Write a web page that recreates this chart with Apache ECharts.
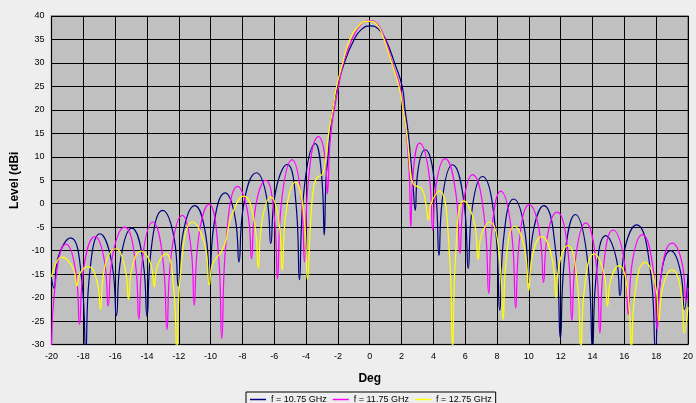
<!DOCTYPE html>
<html>
<head>
<meta charset="utf-8">
<script src="https://cdn.jsdelivr.net/npm/echarts@6/dist/echarts.min.js"></script>
<style>
html,body{margin:0;padding:0;background:#eeeeee;}
#chart{width:696px;height:403px;}
</style>
</head>
<body>
<div id="chart"></div>
<script>
const seriesNames = ['f = 10.75 GHz', 'f = 11.75 GHz', 'f = 12.75 GHz'];
const seriesColors = ['#000080', '#ff00ff', '#ffff00'];

const f1075 = [
[-20,-16],[-19.85,-18],[-19.6,-11.6],[-18.8,-7.3],[-18.08,-16.8],[-17.85,-31],[-17.64,-16.2],[-16.96,-6.4],[-16.17,-13.4],[-15.92,-23.9],[-15.69,-12.7],[-14.95,-5.2],[-14.23,-12.7],[-14.0,-24],[-13.76,-10.4],[-13.02,-1.4],[-12.27,-7.8],[-12.03,-17.5],[-11.78,-7.2],[-11.0,-0.4],[-10.29,-7.0],[-10.06,-17],[-9.83,-5.4],[-9.09,2.3],[-8.43,-3.6],[-8.22,-12.4],[-7.96,-1.0],[-7.12,6.6],[-6.44,0.6],[-6.22,-8.5],[-5.97,1.6],[-5.19,8.4],[-4.6,-1.4],[-4.42,-16.2],[-4.18,1.2],[-3.42,12.8],[-3.0,5.0],[-2.86,-6.7],[-2.75,5],[-2.62,10],[-2.5,15],[-2.33,20],[-2.02,25],[-1.6,30],[-0.98,35],[-0.5,37.2],[0.05,37.9],[0.55,37.2],[1.0,35],[1.56,30],[2.04,25],[2.22,20],[2.42,15],[2.56,10],[2.7,5],[2.86,-1.4],[3.0,6.3],[3.48,11.5],[4.14,2.5],[4.35,-11],[4.55,0.6],[5.2,8.3],[5.95,-0.5],[6.19,-13.8],[6.4,-2.0],[7.08,5.8],[7.91,-5.6],[8.17,-22.7],[8.38,-8.5],[9.04,1.0],[9.76,-6.1],[9.99,-16.8],[10.22,-7.0],[10.94,-0.4],[11.73,-11.7],[11.98,-28.6],[12.21,-12.8],[12.92,-2.3],[13.74,-13.8],[14.0,-31],[14.2,-16.5],[14.83,-6.8],[15.51,-11.9],[15.73,-19.6],[15.98,-10.5],[16.77,-4.5],[17.67,-15.1],[17.96,-31],[18.19,-18.4],[18.9,-10],[19.56,-15],[19.77,-22.5],[20,-15]
];

const f1175 = [
[-20,-31],[-19.78,-17.6],[-19.09,-8.6],[-18.44,-15.4],[-18.24,-25.7],[-18.01,-14.5],[-17.27,-7.0],[-16.64,-12.9],[-16.44,-21.8],[-16.19,-11.7],[-15.4,-5.0],[-14.72,-12.8],[-14.51,-24.6],[-14.3,-12.2],[-13.64,-3.9],[-12.96,-13.1],[-12.75,-26.8],[-12.52,-12.2],[-11.78,-2.5],[-11.21,-10.1],[-11.03,-21.6],[-10.81,-8.7],[-10.1,-0.1],[-9.49,-11.5],[-9.3,-28.7],[-9.06,-9.3],[-8.3,3.7],[-7.64,-2.5],[-7.43,-11.7],[-7.22,-1.7],[-6.54,5.0],[-5.98,-3.4],[-5.8,-16],[-5.58,-0.8],[-4.88,9.4],[-4.29,0.7],[-4.1,-12.4],[-3.89,3.6],[-3.22,14.3],[-2.79,9.4],[-2.66,2.1],[-2.6,5],[-2.55,10],[-2.44,15],[-2.23,20],[-1.96,25],[-1.65,30],[-1.12,35],[-0.55,38.2],[0,39.0],[0.5,38.2],[0.96,35],[1.42,30],[1.9,25],[2.12,20],[2.3,15],[2.42,10],[2.5,5],[2.58,-5],[2.71,5.7],[3.13,12.9],[3.76,5.4],[3.96,-5.7],[4.15,3.5],[4.73,9.6],[5.44,1.5],[5.67,-10.6],[5.86,-0.6],[6.46,6.2],[7.23,-3.9],[7.48,-19.1],[7.66,-6.0],[8.23,2.7],[8.95,-7.3],[9.17,-22.2],[9.37,-9.0],[10.02,-0.2],[10.7,-6.8],[10.92,-16.8],[11.12,-7.8],[11.77,-1.8],[12.48,-11.0],[12.7,-24.9],[12.91,-12.4],[13.58,-4.1],[14.25,-13.5],[14.46,-27.5],[14.66,-14.4],[15.29,-5.6],[16.02,-12.8],[16.25,-23.6],[16.46,-13.4],[17.13,-6.6],[17.84,-14.7],[18.06,-26.8],[18.29,-15.6],[19.0,-8.4],[19.67,-13.4],[19.88,-21],[20,-18]
];

const f1275 = [
[-20,-15.6],[-19.34,-11.4],[-18.64,-13.8],[-18.4,-17.5],[-18.24,-15.0],[-17.72,-13.4],[-17.11,-17.0],[-16.92,-22.5],[-16.73,-14.8],[-15.96,-9.6],[-15.35,-14.2],[-15.16,-20.4],[-14.97,-14.2],[-14.37,-10.1],[-13.74,-13.1],[-13.54,-17.7],[-13.37,-13.5],[-12.82,-10.7],[-12.3,-18.8],[-12.13,-31],[-11.89,-14.7],[-11.14,-3.9],[-10.33,-9.3],[-10.08,-17.3],[-9.9,-13],[-9.34,-10.3],[-9.05,-8],[-8.71,-2.8],[-7.93,1.6],[-7.22,-4.6],[-7.0,-13.8],[-6.81,-4.7],[-6.22,1.4],[-5.67,-4.8],[-5.5,-14.2],[-5.3,-2.9],[-4.67,4.6],[-4.1,-3.7],[-3.92,-16.1],[-3.7,-3],[-3.5,4],[-3.3,5.6],[-3.0,6.2],[-2.85,7.5],[-2.72,11],[-2.58,15],[-2.33,20],[-2.08,25],[-1.7,30],[-1.25,35],[-0.6,38.2],[-0.08,38.9],[0.45,38.2],[0.9,35],[1.38,30],[1.83,25],[2.1,20],[2.32,15],[2.47,10],[2.58,6],[2.72,4.3],[2.9,3.8],[3.27,3.2],[3.5,0.5],[3.69,-3.5],[3.85,0],[4.38,2.7],[5.01,-10.8],[5.21,-31],[5.38,-12],[5.92,0.6],[6.6,-4.4],[6.81,-11.9],[6.98,-7.1],[7.54,-3.9],[8.18,-12.2],[8.38,-24.7],[8.55,-12.8],[9.1,-4.8],[9.77,-10.3],[9.99,-18.5],[10.19,-11.6],[10.81,-7.0],[11.49,-12.2],[11.71,-20],[11.88,-13.4],[12.44,-8.9],[13.07,-17.7],[13.27,-31],[13.47,-18.8],[14.1,-10.7],[14.74,-15.1],[14.94,-21.8],[15.12,-16.6],[15.67,-13.2],[16.26,-20.3],[16.44,-31],[16.64,-19.9],[17.29,-12.5],[17.96,-17.5],[18.17,-25],[18.37,-18.5],[19.0,-14.1],[19.59,-19.4],[19.77,-27.5],[20,-22]
];

const seriesData = [f1075, f1175, f1275];
const font = 'Liberation Sans, Arial, sans-serif';

const chart = echarts.init(document.getElementById('chart'), null, {renderer: 'canvas'});
chart.setOption({
  animation: false,
  backgroundColor: '#eeeeee',
  grid: {
    left: 51.5, right: 5, top: 16, bottom: 58.5,
    show: true, backgroundColor: '#c0c0c0', borderColor: '#7a7a7a', borderWidth: 1.5
  },
  legend: {
    data: seriesNames,
    left: 246, top: 392,
    padding: [3, 4, 3, 4],
    borderColor: '#000', borderWidth: 1,
    itemWidth: 16, itemHeight: 1.5, itemGap: 6,
    icon: 'rect',
    textStyle: {fontSize: 9, color: '#000', fontFamily: font}
  },
  xAxis: {
    type: 'value', min: -20, max: 20, interval: 2,
    name: 'Deg', nameLocation: 'middle', nameGap: 28,
    nameTextStyle: {fontSize: 12, fontWeight: 'bold', color: '#000', fontFamily: font},
    axisLine: {show: false}, axisTick: {show: false},
    axisLabel: {fontSize: 9, color: '#000', margin: 8, fontFamily: font},
    splitLine: {show: true, lineStyle: {color: '#000', width: 1}}
  },
  yAxis: {
    type: 'value', min: -30, max: 40, interval: 5,
    name: 'Level (dBi', nameLocation: 'middle', nameGap: 30, nameRotate: 90,
    nameTextStyle: {fontSize: 12, fontWeight: 'bold', color: '#000', fontFamily: font},
    axisLine: {show: false}, axisTick: {show: false},
    axisLabel: {fontSize: 9, color: '#000', margin: 7, fontFamily: font},
    splitLine: {show: true, lineStyle: {color: '#000', width: 1}}
  },
  series: seriesNames.map((name, i) => ({
    name: name,
    type: 'line',
    data: seriesData[i],
    symbol: 'none',
    smooth: 0.5,
    clip: true,
    color: seriesColors[i],
    itemStyle: {color: seriesColors[i]},
    lineStyle: {width: 1.2, color: seriesColors[i]}
  }))
});
</script>
</body>
</html>
